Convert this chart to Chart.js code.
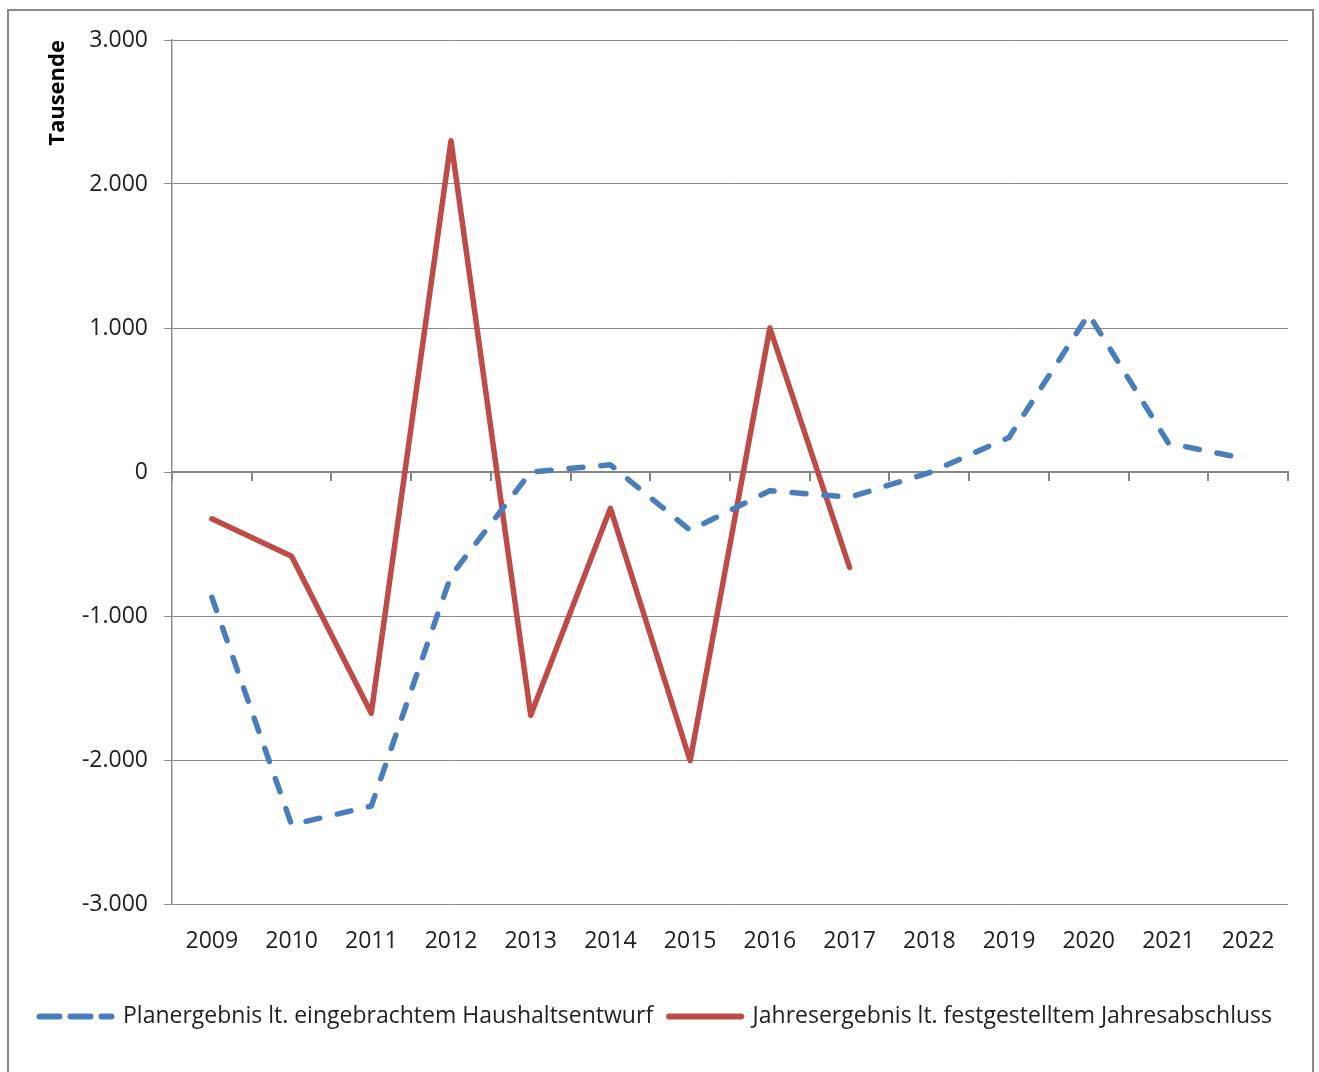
<!DOCTYPE html>
<html>
<head>
<meta charset="utf-8">
<script src="https://cdn.jsdelivr.net/npm/chart.js@4.4.1/dist/chart.umd.min.js"></script>
<style>
    html, body { margin: 0; padding: 0; background: #fff; }
    #frame {
        position: absolute; left: 7px; top: 9px; width: 1307px; height: 1080px;
        border: 2px solid #8a8a8a; box-sizing: border-box;
    }
    #wrap { position: absolute; left: 0; top: 0; width: 1319px; height: 1072px; }
</style>
</head>
<body>
<div id="frame"></div>
<div id="wrap"><canvas id="lineChart"></canvas></div>
<script>
// Data
const years = ['2009', '2010', '2011', '2012', '2013', '2014', '2015', '2016', '2017', '2018', '2019', '2020', '2021', '2022'];
const planValues = [-870, -2450, -2320, -720, 0, 50, -405, -130, -175, -5, 240, 1095, 200, 88];
const actualValues = [-325, -585, -1675, 2300, -1690, -252, -2005, 1000, -662, null, null, null, null, null];
const yTicks = [-3000, -2000, -1000, 0, 1000, 2000, 3000];

const PLAN_LABEL = 'Planergebnis lt. eingebrachtem Haushaltsentwurf';
const ACTUAL_LABEL = 'Jahresergebnis lt. festgestelltem Jahresabschluss';
const FONT = "'Open Sans', 'Noto Sans', sans-serif";

// Legend dash differs a bit from the plot dash (as in the original)
const legendDash = [[20, 11], []];

// 3000 -> "3.000"
function formatThousands(v) {
    const s = Math.abs(v).toString().replace(/\B(?=(\d{3})+(?!\d))/g, '.');
    return (v < 0 ? '-' : '') + s;
}

// Legend items as short line samples
function legendLabels(chart) {
    const items = Chart.defaults.plugins.legend.labels.generateLabels(chart);
    return items.map((item, i) => {
        const ds = chart.data.datasets[item.datasetIndex];
        item.strokeStyle = ds.borderColor;
        item.lineWidth = 6;
        item.lineCap = 'round';
        item.lineDash = legendDash[i];
        item.pointStyle = 'line';
        return item;
    });
}

let lineChart = new Chart(document.getElementById('lineChart'), {
    type: 'line',
    data: {
        labels: years,
        datasets: [{
            label: PLAN_LABEL,
            data: planValues,
            borderColor: '#4a7ebb',
            backgroundColor: '#4a7ebb',
            borderWidth: 5.5,
            borderDash: [14, 18],
            borderCapStyle: 'round',
            borderJoinStyle: 'round',
            pointRadius: 0,
            tension: 0
        }, {
            label: ACTUAL_LABEL,
            data: actualValues,
            borderColor: '#be4b48',
            backgroundColor: '#be4b48',
            borderWidth: 5.5,
            borderCapStyle: 'round',
            borderJoinStyle: 'round',
            pointRadius: 0,
            tension: 0
        }]
    },
    options: {
        responsive: true,
        maintainAspectRatio: false,
        animation: false,
        layout: {
            padding: { left: 10, right: 31, top: 40, bottom: 34 }
        },
        plugins: {
            tooltip: { enabled: false },
            legend: {
                position: 'bottom',
                align: 'end',
                labels: {
                    usePointStyle: true,
                    pointStyle: 'line',
                    pointStyleWidth: 72,
                    boxHeight: 21,
                    padding: 16,
                    color: '#222',
                    font: { family: FONT, size: 23 },
                    generateLabels: legendLabels
                }
            }
        },
        scales: {
            x: {
                type: 'category',
                position: 'bottom',
                offset: true,
                grid: { display: false, offset: true },
                border: { display: false },
                ticks: {
                    color: '#222',
                    padding: 16,
                    maxRotation: 0,
                    autoSkip: false,
                    font: { family: FONT, size: 23 }
                },
                afterFit: (scale) => { scale.height = 85; }
            },
            // axis line with tick marks crossing at 0
            x0: {
                type: 'category',
                position: { y: 0 },
                offset: true,
                grid: {
                    offset: true,
                    drawOnChartArea: false,
                    drawTicks: true,
                    tickLength: 8,
                    color: '#868686',
                    lineWidth: 2
                },
                border: { display: true, color: '#868686', width: 2 },
                ticks: { display: false }
            },
            y: {
                min: -3000,
                max: 3000,
                afterBuildTicks: (scale) => {
                    scale.ticks = yTicks.map(v => ({ value: v }));
                },
                grid: {
                    color: '#8c8c8c',
                    lineWidth: 1,
                    drawTicks: true,
                    tickLength: 8
                },
                border: { display: true, color: '#8c8c8c', width: 1.5 },
                ticks: {
                    color: '#222',
                    padding: 16,
                    font: { family: FONT, size: 23 },
                    callback: (v) => formatThousands(v)
                },
                title: {
                    display: true,
                    text: 'Tausende',
                    align: 'end',
                    color: '#000',
                    font: { family: FONT, size: 22, weight: 'bold' },
                    padding: { top: 35, bottom: 4 }
                },
                afterFit: (scale) => { scale.width = 162; }
            }
        }
    }
});
</script>
</body>
</html>
